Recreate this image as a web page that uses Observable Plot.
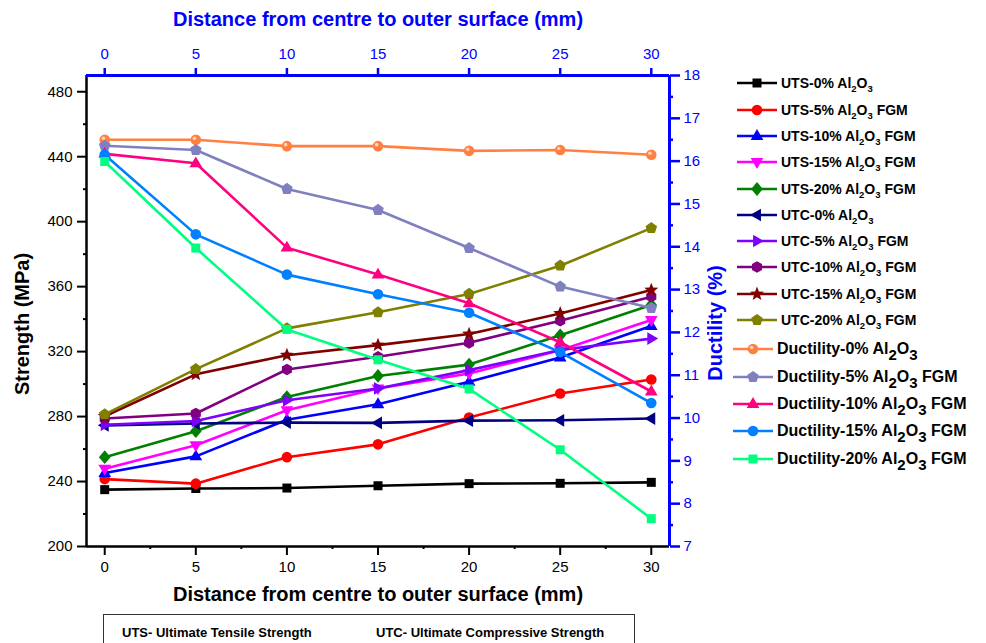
<!DOCTYPE html>
<html>
<head>
<meta charset="utf-8">
<script src="https://cdn.jsdelivr.net/npm/d3@7"></script>
<script src="https://cdn.jsdelivr.net/npm/@observablehq/plot@0.6"></script>
<style>
  body { margin: 0; background: white; font-family: "Liberation Sans", Arial, sans-serif; }
  #wrap { position: relative; width: 986px; height: 643px; overflow: hidden; }
  #legend { position: absolute; left: 0; top: 0; }
  .entry { position: absolute; height: 26px; display: flex; align-items: center; white-space: nowrap; font-weight: bold; font-size: 14px; color: #000; }
  .entry svg { display: block; }
  .entry sub { font-size: 9.5px; vertical-align: -4px; line-height: 0; }
  .entry.duct { font-size: 16px; }
  .entry.duct sub { font-size: 15px; vertical-align: -6px; }
  #box { position: absolute; left: 103px; top: 614px; width: 532px; height: 60px; border: 1px solid #333; box-sizing: border-box; font-weight: bold; font-size: 13px; }
  #box span { position: absolute; top: 10px; }
</style>
</head>
<body>
<div id="wrap"><div id="chart"></div><div id="legend"></div>
<div id="box"><span style="left:18px">UTS- Ultimate Tensile Strength</span><span style="left:272px">UTC- Ultimate Compressive Strength</span></div>
</div>
<script>
// ---- data ----
const distance = [0, 5, 10, 15, 20, 25, 30];
const uts0  = [235.0, 235.7, 236.0, 237.4, 238.7, 238.9, 239.5];
const uts5  = [241.5, 238.7, 255.0, 262.9, 279.4, 294.2, 302.8];
const uts10 = [245.2, 255.5, 278.0, 287.6, 301.4, 316.4, 335.7];
const uts15 = [247.9, 262.3, 283.9, 297.3, 306.5, 320.9, 339.4];
const uts20 = [255.0, 271.0, 292.0, 305.0, 312.0, 330.0, 348.7];
const utc0  = [274.6, 275.7, 276.3, 276.1, 277.5, 277.7, 278.8];
const utc5  = [275.0, 277.3, 290.0, 297.3, 308.6, 321.0, 328.0];
const utc10 = [278.8, 281.9, 309.0, 316.8, 325.4, 339.0, 353.8];
const utc15 = [280.2, 306.0, 317.8, 324.0, 330.8, 343.5, 357.9];
const utc20 = [281.4, 309.2, 334.3, 344.2, 355.5, 372.9, 396.0];
const duct0  = [16.50, 16.50, 16.35, 16.35, 16.24, 16.26, 16.15];
const duct5  = [16.36, 16.26, 15.35, 14.86, 13.97, 13.07, 12.57];
const duct10 = [16.17, 15.95, 13.98, 13.35, 12.68, 11.77, 10.62];
const duct15 = [16.15, 14.29, 13.35, 12.89, 12.46, 11.54, 10.35];
const duct20 = [15.99, 13.97, 12.07, 11.36, 10.68, 9.26, 7.65];

const seriesNames = [
  "UTS-0% Al<sub>2</sub>O<sub>3</sub>",
  "UTS-5% Al<sub>2</sub>O<sub>3</sub> FGM",
  "UTS-10% Al<sub>2</sub>O<sub>3</sub> FGM",
  "UTS-15% Al<sub>2</sub>O<sub>3</sub> FGM",
  "UTS-20% Al<sub>2</sub>O<sub>3</sub> FGM",
  "UTC-0% Al<sub>2</sub>O<sub>3</sub>",
  "UTC-5% Al<sub>2</sub>O<sub>3</sub> FGM",
  "UTC-10% Al<sub>2</sub>O<sub>3</sub> FGM",
  "UTC-15% Al<sub>2</sub>O<sub>3</sub> FGM",
  "UTC-20% Al<sub>2</sub>O<sub>3</sub> FGM",
  "Ductility-0% Al<sub>2</sub>O<sub>3</sub>",
  "Ductility-5% Al<sub>2</sub>O<sub>3</sub> FGM",
  "Ductility-10% Al<sub>2</sub>O<sub>3</sub> FGM",
  "Ductility-15% Al<sub>2</sub>O<sub>3</sub> FGM",
  "Ductility-20% Al<sub>2</sub>O<sub>3</sub> FGM"
];
const seriesValues = [uts0, uts5, uts10, uts15, uts20, utc0, utc5, utc10, utc15, utc20, duct0, duct5, duct10, duct15, duct20];
const seriesAxis = ["left","left","left","left","left","left","left","left","left","left","right","right","right","right","right"];
const seriesColors = ["#000000","#ff0000","#0000ff","#ff00ff","#008000","#000080","#8000ff","#800080","#800000","#808000","#ff8040","#8080c0","#ff0080","#0080ff","#00ff80"];
const seriesShapes = ["square","circle","triUp","triDown","diamond","triLeft","triRight","hexagon","star","pentagon","circle","pentagon","triUp","circle","square"];

const xTicks = [0, 5, 10, 15, 20, 25, 30];
const xMinor = [2.5, 7.5, 12.5, 17.5, 22.5, 27.5];
const yTicks = [200, 240, 280, 320, 360, 400, 440, 480];
const yMinor = [220, 260, 300, 340, 380, 420, 460];
const dTicks = [7, 8, 9, 10, 11, 12, 13, 14, 15, 16, 17, 18];
const dMinor = [7.5, 8.5, 9.5, 10.5, 11.5, 12.5, 13.5, 14.5, 15.5, 16.5, 17.5];

// ---- scales helpers ----
const S0 = 200, S1 = 490, D0 = 7, D1 = 18;
const toS = d => S0 + (d - D0) * (S1 - S0) / (D1 - D0);
const toD = s => D0 + (s - S0) * (D1 - D0) / (S1 - S0);

// ---- custom symbols ----
function poly(pts) {
  return { draw(ctx, size) {
    const R = Math.sqrt(size / Math.PI);
    pts.forEach(([a, b], i) => i ? ctx.lineTo(a * R, b * R) : ctx.moveTo(a * R, b * R));
    ctx.closePath();
  }};
}
function regular(n, k, rot, inner) {
  const pts = [];
  const m = inner ? n * 2 : n;
  for (let i = 0; i < m; i++) {
    const ang = rot + i * 2 * Math.PI / m;
    const rr = inner && i % 2 ? inner : k;
    pts.push([rr * Math.sin(ang), -rr * Math.cos(ang)]);
  }
  return poly(pts);
}
const symbols = {
  square: poly([[-0.85,-0.85],[0.85,-0.85],[0.85,0.85],[-0.85,0.85]]),
  circle: { draw(ctx, size) { const R = Math.sqrt(size / Math.PI); ctx.moveTo(R, 0); ctx.arc(0, 0, R, 0, 2 * Math.PI); } },
  triUp: poly([[0,-1.3],[1.2,0.75],[-1.2,0.75]]),
  triDown: poly([[0,1.3],[1.2,-0.75],[-1.2,-0.75]]),
  triLeft: poly([[-1.3,0],[0.75,-1.2],[0.75,1.2]]),
  triRight: poly([[1.3,0],[-0.75,-1.2],[-0.75,1.2]]),
  diamond: poly([[0,-1.3],[1.1,0],[0,1.3],[-1.1,0]]),
  hexagon: regular(6, 1.1, 0),
  star: regular(5, 1.4, 0, 0.6),
  pentagon: regular(5, 1.15, 0)
};

// ---- tidy rows ----
const series = seriesNames.map((name, i) => ({
  name, color: seriesColors[i], shape: seriesShapes[i], axis: seriesAxis[i],
  rows: seriesValues[i].map((v, j) => ({ x: distance[j], y: seriesAxis[i] === "right" ? toS(v) : v }))
}));

const marks = [];
// axes frame lines
marks.push(Plot.ruleY([S0], { stroke: "black", strokeWidth: 2.5 }));
marks.push(Plot.ruleX([-1], { stroke: "black", strokeWidth: 2.5 }));
marks.push(Plot.ruleY([S1], { stroke: "blue", strokeWidth: 3 }));
marks.push(Plot.ruleX([31], { stroke: "blue", strokeWidth: 3 }));
// axes
marks.push(Plot.axisX({ anchor: "bottom", ticks: xTicks, tickSize: 9, tickPadding: 6, strokeWidth: 2, fontSize: 15, label: null, color: "black" }));
marks.push(Plot.axisX({ anchor: "bottom", ticks: xMinor, tickSize: 3, strokeWidth: 2, text: null, label: null, color: "black" }));
marks.push(Plot.axisX({ anchor: "top", ticks: xTicks, tickSize: 8, tickPadding: 9, strokeWidth: 2.5, fontSize: 15, label: null, color: "blue" }));
marks.push(Plot.axisX({ anchor: "top", ticks: xMinor, tickSize: 2, strokeWidth: 2.5, text: null, label: null, color: "blue" }));
marks.push(Plot.axisY({ anchor: "left", ticks: yTicks, tickSize: 9, tickPadding: 5, strokeWidth: 2, fontSize: 15, label: null, color: "black" }));
marks.push(Plot.axisY({ anchor: "left", ticks: yMinor, tickSize: 3, strokeWidth: 2, text: null, label: null, color: "black" }));
marks.push(Plot.axisY({ anchor: "right", ticks: dTicks.map(toS), tickFormat: s => String(Math.round(toD(s))), tickSize: 10, tickPadding: 4, strokeWidth: 2.5, fontSize: 15, label: null, color: "blue" }));
marks.push(Plot.axisY({ anchor: "right", ticks: dMinor.map(toS), tickSize: 3, strokeWidth: 2.5, text: null, label: null, color: "blue" }));
// series
series.forEach(s => {
  marks.push(Plot.line(s.rows, { x: "x", y: "y", stroke: s.color, strokeWidth: 2.6 }));
  marks.push(Plot.dot(s.rows, { x: "x", y: "y", r: 5.3, symbol: symbols[s.shape], fill: s.color, stroke: "none" }));
  if (s.axis === "right" && s.shape === "circle" && s.color === "#ff8040") {
    marks.push(Plot.dot(s.rows, { x: "x", y: "y", r: 1.8, dx: -1.3, dy: -1.5, fill: "white", fillOpacity: 0.65, stroke: "none" }));
  }
});
// titles
marks.push(Plot.text(["Distance from centre to outer surface (mm)"], { text: d => d, frameAnchor: "bottom", textAnchor: "middle", dy: 54, fontSize: 20, fontWeight: "bold", fill: "black" }));
marks.push(Plot.text(["Distance from centre to outer surface (mm)"], { text: d => d, frameAnchor: "top", textAnchor: "middle", dy: -64, fontSize: 20, fontWeight: "bold", fill: "blue" }));
marks.push(Plot.text(["Strength (MPa)"], { text: d => d, frameAnchor: "left", textAnchor: "middle", dx: -64, dy: 13, rotate: -90, fontSize: 20, fontWeight: "bold", fill: "black" }));
marks.push(Plot.text(["Ductility (%)"], { text: d => d, frameAnchor: "right", textAnchor: "middle", dx: 46, dy: 12, rotate: -90, fontSize: 20, fontWeight: "bold", fill: "blue" }));

const chart = Plot.plot({
  width: 986, height: 643,
  marginLeft: 86, marginRight: 317, marginTop: 75, marginBottom: 97,
  x: { domain: [-1, 31], axis: null, label: null },
  y: { domain: [S0, S1], axis: null, label: null },
  style: { fontFamily: "'Liberation Sans', Arial, sans-serif", fontSize: "15px", background: "white", overflow: "visible" },
  marks
});
document.getElementById("chart").appendChild(chart);

// ---- legend ----
const legend = d3.select("#legend");
series.forEach((s, i) => {
  const duct = s.axis === "right";
  const cy = i < 10 ? 83.3 + i * 26.3 : 349.3 + (i - 10) * 27.3;
  const left = duct ? 732 : 736;
  const e = legend.append("div").attr("class", "entry" + (duct ? " duct" : ""))
    .style("left", left + "px").style("top", (cy - 13) + "px");
  const svg = e.append("svg").attr("width", 45).attr("height", 26);
  svg.append("line").attr("x1", 1).attr("x2", 41).attr("y1", 13).attr("y2", 13).attr("stroke", s.color).attr("stroke-width", 2.6);
  const p = d3.path();
  symbols[s.shape].draw(p, Math.PI * 28);
  svg.append("path").attr("d", p.toString()).attr("transform", "translate(21,13)").attr("fill", s.color);
  if (duct && s.shape === "circle" && s.color === "#ff8040") {
    svg.append("circle").attr("cx", 19.7).attr("cy", 11.5).attr("r", 1.8).attr("fill", "white").attr("fill-opacity", 0.65);
  }
  e.append("span").html(s.name);
});
</script>
</body>
</html>
